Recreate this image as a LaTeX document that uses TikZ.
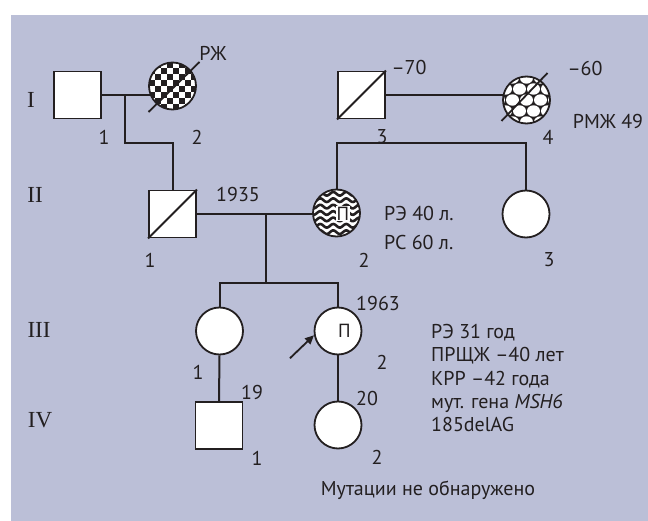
\documentclass[tikz,border=0pt]{standalone}
\usepackage{fontspec}
\setmainfont{PT Sans}
\newfontfamily\romfont{Liberation Serif}
\usetikzlibrary{arrows.meta, positioning, calc, backgrounds}

\definecolor{panel}{RGB}{187,191,215}
\definecolor{ink}{RGB}{35,31,32}

\begin{document}
\begin{tikzpicture}[x=1pt, y=-1pt,
  every node/.style={font=\fontsize{20}{23.3}\selectfont, text=ink},
  male/.style={rectangle, draw=ink, line width=1.8pt, fill=white, minimum size=47pt, inner sep=0pt},
  female/.style={circle, draw=ink, line width=1.8pt, fill=white, minimum size=47pt, inner sep=0pt},
  gen/.style={font=\romfont\fontsize{23}{26}\selectfont},
  link/.style={draw=ink, line width=2pt},
  slash/.style={draw=ink, line width=1.8pt},
  proband/.style={draw=ink, line width=1.8pt, -{Triangle[length=9pt, width=8pt]}},
  checker/.style={path picture={
    \fill[ink] (path picture bounding box.south west) rectangle (path picture bounding box.north east);
    \foreach \i in {-4,...,3}{\foreach \j in {-4,...,3}{
      \pgfmathtruncatemacro\chkcell{mod(\i+\j+8,2)}
      \ifnum\chkcell=0
        \fill[white] ($(path picture bounding box.center)+(\i*6,\j*6)$) rectangle ++(6,6);
      \fi}}
  }},
  wavy/.style={path picture={
    \begin{scope}[shift={(path picture bounding box.center)}]
      \foreach \k in {-4,...,4}
        \draw[ink, line width=2.6pt] plot[domain=-28:28, samples=50, smooth] (\x, {\k*6.4 + 1.8*sin(\x*27.7)});
    \end{scope}
  }},
  bubbly/.style={path picture={
    \fill[ink] (path picture bounding box.south west) rectangle (path picture bounding box.north east);
    \begin{scope}[shift={(path picture bounding box.center)}]
      \foreach \r in {-3,...,3}{\foreach \c in {-2,...,2}{
        \fill[white] ({\c*14 + mod(\r+4,2)*7}, {\r*11}) ellipse [x radius=6.5, y radius=5.7];
      }}
    \end{scope}
  }}
]
\useasboundingbox (0,0) rectangle (648,521);

% Generation I
\node[male] (m11) at (77.5,95) {};
\node[female, checker] (f12) at (172.5,86) {};
\node[male] (m13) at (361.5,95) {};
\node[female, bubbly] (f14) at (526.5,100) {};

% Generation II
\node[male] (m21) at (172.5,214) {};
\node[female, wavy] (f22) at (336.5,213) {};
\node[female] (f23) at (526,214) {};

% Generation III
\node[female] (f31) at (219.5,331) {};
\node[female] (f32) at (338,331) {};

% Generation IV
\node[male] (m41) at (219,425.5) {};
\node[female] (f42) at (338,425) {};

% Deceased
\draw[slash] (m13.south west) -- (m13.north east);
\draw[slash] (m21.south west) -- (m21.north east);
\draw[slash] ($(f12)+(-24,26)$) -- ($(f12)+(27,-24)$);
\draw[slash] ($(f14)+(-25,21)$) -- ($(f14)+(21,-27)$);

% Marks inside symbols
\node[fill=white, inner sep=0.6pt, font=\fontsize{19}{19}\selectfont] (p22) at (343,213.5) {П};
\node[font=\fontsize{19}{19}\selectfont] (p32) at (344.5,331) {П};

% Proband
\coordinate (pb) at ($(f32.190)+(-24,23)$);
\draw[proband] (pb) -- (f32.190);

% Lines of descent
\begin{scope}[on background layer]
  \fill[panel] (11,15) rectangle (648,521);
  \draw[link] (m11.east) -- (f12.center |- m11.east);
  \coordinate (u1) at ($(m11.east)!0.5!(m11.east -| f12.west)$);
  \draw[link] (u1) -- ++(0,48.5) -| (m21.north);
  \draw[link] (m13.east) -- (f14.center |- m13.east);
  \draw[link] (f22.north) -- ++(0,-46) -| (f23.north);
  \draw[link] (m21.east) -- (f22.center |- m21.east);
  \coordinate (u2) at ($(m21.east)!0.6!(f22.west)$);
  \draw[link] (u2) -- ++(0,70) coordinate (sib3);
  \draw[link] (f31.north) |- (sib3) -| (f32.north);
  \draw[link] (f31.south) -- (m41.north);
  \draw[link] (f32.south) -- (f42.north);
\end{scope}

% Generation numbers
\node[gen] (gI) at (31,100) {I};
\node[gen] (gII) at (35,195) {II};
\node[gen] (gIII) at (39,330) {III};
\node[gen] (gIV) at (40,420) {IV};

% Labels
\node (t12) at (213,53) {РЖ};
\node (i11) at (104,137) {1};
\node (i12) at (197,137) {2};
\node (d13) at (409,68) {–70};
\node (d14) at (585,69) {–60};
\node (t14) at (608,122) {РМЖ 49};
\node (i13) at (382,137) {3};
\node (i14) at (548,137) {4};
\node (b21) at (238,195) {1935};
\node (i21) at (150,260) {1};
\node[anchor=west, inner sep=0pt] (t22a) at (384,214) {РЭ 40 л.};
\node[anchor=west, inner sep=0pt] (t22b) at (384,243) {РС 60 л.};
\node (i22) at (364,260) {2};
\node (i23) at (549,260) {3};
\node (b32) at (378,304) {1963};
\node (i31) at (198,372) {1};
\node (i32) at (382,362) {2};
\node[anchor=west, align=left, inner sep=0pt] (t32) at (431,378)
  {РЭ 31 год\\ПРЩЖ –40 лет\\КРР –42 года\\мут. гена \textit{MSH6}\\185delAG};
\node (b41) at (252,392) {19};
\node (i41) at (257,458) {1};
\node (b42) at (367,398) {20};
\node (i42) at (377,457) {2};
\node (t42) at (428,490) {Мутации не обнаружено};

\end{tikzpicture}
\end{document}
